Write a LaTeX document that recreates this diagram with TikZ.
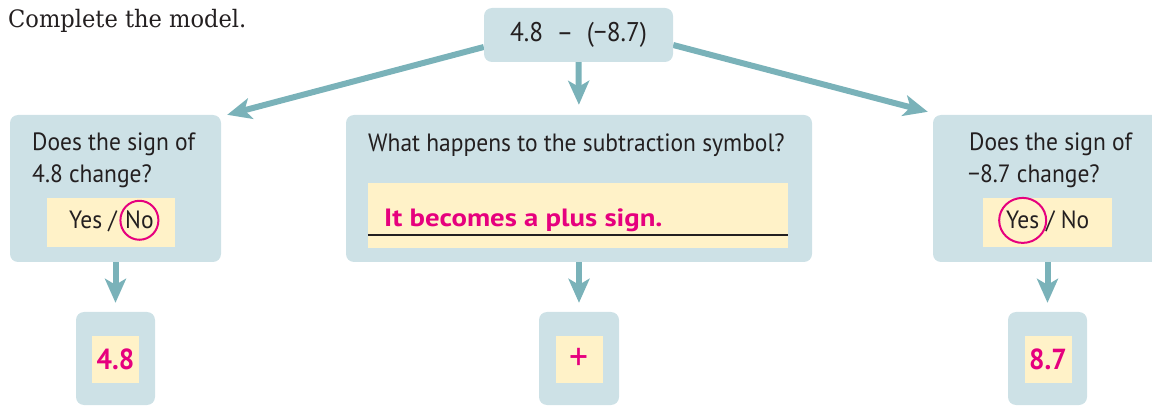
\documentclass[tikz,border=0pt]{standalone}
\usepackage{fontspec}
\setmainfont{DejaVu Serif}[FakeStretch=0.94]
\setsansfont{PT Sans}[FakeStretch=0.94]
\newfontfamily\widesans{PT Sans}[FakeStretch=1.15]
\usetikzlibrary{arrows.meta,positioning,backgrounds}
\definecolor{boxblau}{RGB}{205,225,230}
\definecolor{flowteal}{RGB}{122,178,185}
\definecolor{antwortgelb}{RGB}{255,242,200}
\definecolor{pinkink}{RGB}{230,0,126}
\definecolor{tinte}{RGB}{35,31,32}

\begin{document}
\begin{tikzpicture}[
        x=1pt, y=-1pt,
        >={Stealth[length=24pt,width=21pt,inset=6pt]},
        panel/.style={fill=boxblau, rounded corners=8pt, inner sep=0pt},
        answer/.style={fill=antwortgelb, inner sep=0pt},
        words/.style={inner sep=0pt, anchor=base west, text=tinte, font=\sffamily\fontsize{25}{30}\selectfont},
        said/.style={inner sep=0pt, anchor=base west, text=pinkink, font=\widesans\bfseries\fontsize{25}{30}\selectfont},
        result/.style={answer, text=pinkink, font=\sffamily\bfseries\fontsize{29}{34}\selectfont, minimum width=47pt, minimum height=47pt},
        flow/.style={->, draw=flowteal, line width=6pt},
        ring/.style={draw=pinkink, line width=2pt}
    ]
        \useasboundingbox (0,0) rectangle (1152,406);
        \node[inner sep=0pt, anchor=base west, text=tinte, font=\rmfamily\fontsize{24}{28}\selectfont] (task) at (8,28) {Complete the model.};
        \node[panel, minimum width=189pt, minimum height=54pt, text=tinte, font=\sffamily\fontsize{27}{32}\selectfont] (expr) at (578.5,35) {4.8\enspace–\enspace(−8.7)};
        \node[panel, minimum width=211pt, minimum height=147pt] (q1) at (115.5,188.5) {};
        \node[panel, minimum width=466pt, minimum height=147pt] (q2) at (579,188.5) {};
        \node[panel, minimum width=232pt, minimum height=147pt] (q3) at (1049,188.5) {};
        \node[words] (q1top) at (32,151) {Does the sign of};
        \node[words] (q1bot) at (32,183) {4.8 change?};
        \node[words] (q2top) at (368,152) {What happens to the subtraction symbol?};
        \node[words] (q3top) at (969,151) {Does the sign of};
        \node[words] (q3bot) at (968,183) {−8.7 change?};
        \node[answer, minimum width=128pt, minimum height=49pt] (a1) at (111,222.5) {};
        \node[answer, minimum width=420pt, minimum height=65pt] (a2) at (578,215.5) {};
        \node[answer, minimum width=129pt, minimum height=49pt] (a3) at (1047.5,222.5) {};
        \node[words] (yes1) at (69,229) {Yes /};
        \node[words] (no1) at (125,229) {No};
        \draw[ring] (no1.center) ellipse (19 and 19.5);
        \node[words] (yes3) at (1006,229) {Yes};
        \node[words] (no3) at (1046,229) {/ No};
        \draw[ring] (yes3.center) ellipse (23.5 and 22.5);
        \draw[tinte, line width=1.2pt] ([yshift=-19.5pt]a2.west) -- ([yshift=-19.5pt]a2.east);
        \node[said] (a2text) at (384,227) {It becomes a plus sign.};
        \node[panel, minimum width=79pt, minimum height=93pt] (r1) at (115.5,358.5) {};
        \node[panel, minimum width=80pt, minimum height=93pt] (r2) at (579,358.5) {};
        \node[panel, minimum width=79pt, minimum height=93pt] (r3) at (1047.5,358.5) {};
        \node[result] (r1ans) at (115.5,359.5) {4.8};
        \node[result, font=\sffamily\fontsize{40}{44}\selectfont] (r2ans) at (579,359.5) {+};
        \node[result] (r3ans) at (1048,359.5) {8.7};
        \begin{scope}[on background layer]
            \draw[flow] ([yshift=-12pt]expr.west) -- ([xshift=6pt]q1.north east);
            \draw[flow] ([yshift=-10pt]expr.east) -- ([xshift=-5pt,yshift=3pt]q3.north west);
        \end{scope}
        \draw[flow, shorten >=10pt] (expr.south) -- (q2.north);
        \draw[flow, shorten >=9pt] (q1.south) -- (r1.north);
        \draw[flow, shorten >=9pt] (q2.south) -- (r2.north);
        \draw[flow, shorten >=9pt] (q3.south -| r3.north) -- (r3.north);
    \end{tikzpicture}
\end{document}
